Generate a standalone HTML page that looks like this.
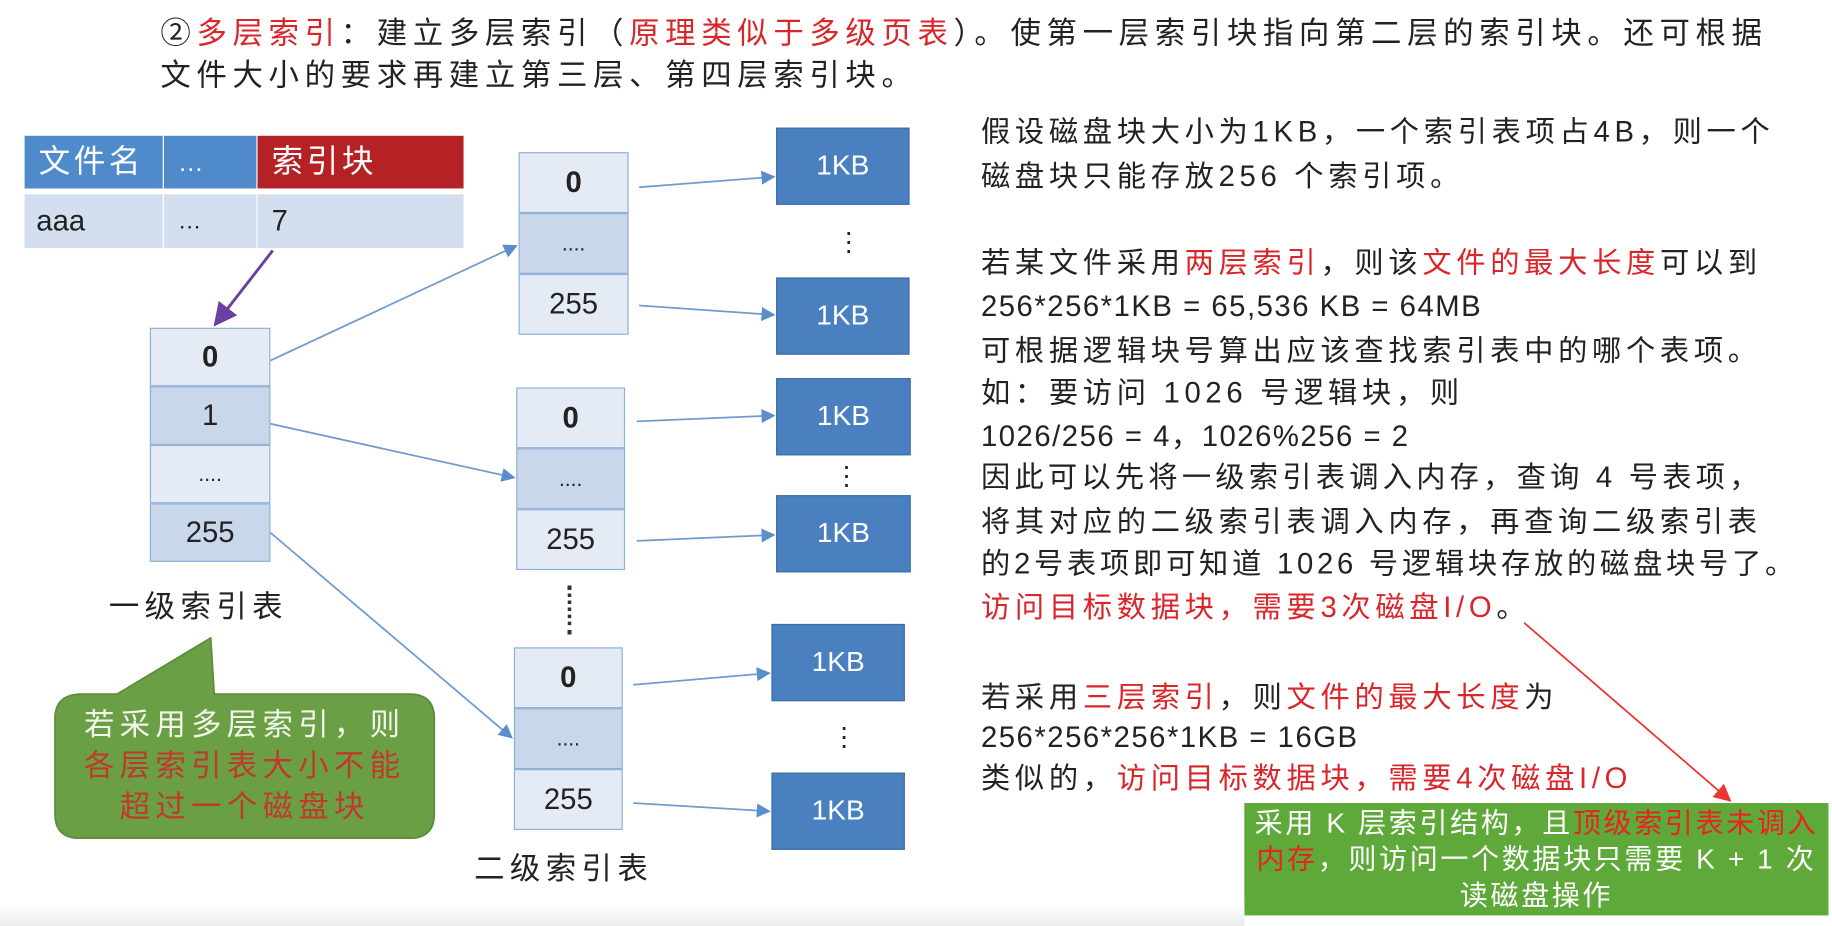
<!DOCTYPE html>
<html><head><meta charset="utf-8">
<style>
html,body{margin:0;padding:0;background:#fff;width:1832px;height:926px;overflow:hidden}
#stage{position:absolute;left:0;top:0;width:1565px;height:791px;transform:scale(1.1706);transform-origin:0 0;font-family:"Liberation Sans","Noto Sans CJK SC",sans-serif;color:#222}
.abs{position:absolute}
.t{position:absolute;white-space:nowrap;font-size:25px;line-height:30px;letter-spacing:4px}
.n{letter-spacing:1.3px}
.r{color:#d9262b}
.cell{position:absolute;box-sizing:border-box;border:1.5px solid #8fb0d6;display:flex;align-items:center;justify-content:center;font-size:25px}
.lt{background:#e4ebf4}.dk{background:#c9d7ea}
.kb{position:absolute;background:#4a80c0;border:1px solid #3a6ea8;color:#fff;font-size:24px;display:flex;align-items:center;justify-content:center;box-sizing:border-box}
.vd{position:absolute;font-size:22px;line-height:22px}
</style></head><body>
<div id="stage">
<div class="t" style="left:137px;top:13px;font-size:26px;letter-spacing:4.8px">②<span class="r">多层索引</span>：建立多层索引（<span class="r">原理类似于多级页表</span>）。使第一层索引块指向第二层的索引块。还可根据</div>
<div class="t" style="left:137px;top:49px;font-size:26px;letter-spacing:4.8px">文件大小的要求再建立第三层、第四层索引块。</div>

<div class="abs" style="left:21px;top:116px;width:118px;height:45px;background:#4f8bcb;color:#fff;font-size:27px;line-height:45px;padding-left:12px;box-sizing:border-box;letter-spacing:3px">文件名</div>
<div class="abs" style="left:140px;top:116px;width:79px;height:45px;background:#4f8bcb;color:#fff;font-size:22px;line-height:45px;padding-left:12px;box-sizing:border-box">…</div>
<div class="abs" style="left:220px;top:116px;width:176px;height:45px;background:#b52226;color:#fff;font-size:27px;line-height:45px;padding-left:12px;box-sizing:border-box;letter-spacing:3px">索引块</div>
<div class="abs" style="left:21px;top:166px;width:118px;height:46px;background:#d3deee;font-size:25px;line-height:46px;padding-left:10px;box-sizing:border-box">aaa</div>
<div class="abs" style="left:140px;top:166px;width:79px;height:46px;background:#d3deee;font-size:20px;line-height:46px;padding-left:12px;box-sizing:border-box">…</div>
<div class="abs" style="left:220px;top:166px;width:176px;height:46px;background:#d3deee;font-size:25px;line-height:46px;padding-left:12px;box-sizing:border-box">7</div>

<svg class="abs" style="left:0;top:0" width="1565" height="791">
<defs>
<marker id="ab" markerWidth="8" markerHeight="8" refX="7" refY="4" orient="auto"><path d="M0,0L8,4L0,8z" fill="#5b8ec9"/></marker>
<marker id="ap" markerWidth="8" markerHeight="8" refX="7" refY="4" orient="auto"><path d="M0,0L8,4L0,8z" fill="#6b3fa0"/></marker>
<marker id="ar" markerWidth="10" markerHeight="10" refX="9" refY="5" orient="auto"><path d="M0,0L10,5L0,10z" fill="#e33"/></marker>
</defs>
<g stroke="#6f9bd0" stroke-width="1.5" fill="none" marker-end="url(#ab)">
<line x1="231" y1="308" x2="441" y2="210"/>
<line x1="231" y1="362" x2="439" y2="408"/>
<line x1="231" y1="455" x2="437" y2="630"/>
<line x1="546" y1="160" x2="661" y2="151"/>
<line x1="546" y1="261" x2="661" y2="269"/>
<line x1="544" y1="360" x2="661" y2="355"/>
<line x1="544" y1="462" x2="661" y2="457"/>
<line x1="541" y1="585" x2="657" y2="575"/>
<line x1="541" y1="686" x2="657" y2="693"/>
</g>
<line x1="233" y1="214" x2="184" y2="277" stroke="#6b3fa0" stroke-width="2.5" marker-end="url(#ap)"/>
<line x1="1302" y1="532" x2="1478" y2="684" stroke="#e33" stroke-width="1.5" marker-end="url(#ar)"/>
<path d="M70,593 H100 L180,545 L183,593 H350 Q371,593 371,614 V695 Q371,716 350,716 H68 Q47,716 47,695 V614 Q47,593 70,593Z" fill="#6b9f46" stroke="#5d8c3c" stroke-width="1.5"/>
</svg>

<div class="cell lt" style="left:128px;top:280px;width:103px;height:50px;font-weight:bold">0</div>
<div class="cell dk" style="left:128px;top:330px;width:103px;height:50px">1</div>
<div class="cell lt" style="left:128px;top:380px;width:103px;height:50px;font-size:18px">....</div>
<div class="cell dk" style="left:128px;top:430px;width:103px;height:50px">255</div>
<div class="t" style="left:93px;top:503px;font-size:26px;letter-spacing:4.6px">一级索引表</div>

<div class="cell lt" style="left:443px;top:130px;width:94px;height:52px;font-weight:bold">0</div>
<div class="cell dk" style="left:443px;top:182px;width:94px;height:52px;font-size:18px">....</div>
<div class="cell lt" style="left:443px;top:234px;width:94px;height:52px">255</div>
<div class="cell lt" style="left:441px;top:331px;width:93px;height:52px;font-weight:bold">0</div>
<div class="cell dk" style="left:441px;top:383px;width:93px;height:52px;font-size:18px">....</div>
<div class="cell lt" style="left:441px;top:435px;width:93px;height:52px">255</div>
<div class="cell lt" style="left:439px;top:553px;width:93px;height:52px;font-weight:bold">0</div>
<div class="cell dk" style="left:439px;top:605px;width:93px;height:52px;font-size:18px">....</div>
<div class="cell lt" style="left:439px;top:657px;width:93px;height:52px">255</div>
<div class="abs" style="left:485px;top:500px;width:0;height:42px;border-left:3px dotted #333"></div>
<div class="t" style="left:405px;top:727px;font-size:26px;letter-spacing:4.6px">二级索引表</div>

<div class="kb" style="left:663px;top:109px;width:114px;height:66px">1KB</div>
<div class="kb" style="left:663px;top:237px;width:114px;height:66px">1KB</div>
<div class="kb" style="left:663px;top:323px;width:115px;height:66px">1KB</div>
<div class="kb" style="left:663px;top:423px;width:115px;height:66px">1KB</div>
<div class="kb" style="left:659px;top:533px;width:114px;height:66px">1KB</div>
<div class="kb" style="left:659px;top:660px;width:114px;height:66px">1KB</div>
<div class="vd" style="left:714px;top:196px">⋮</div>
<div class="vd" style="left:712px;top:396px">⋮</div>
<div class="vd" style="left:710px;top:619px">⋮</div>

<div class="abs" style="left:47px;top:602px;width:324px;text-align:center;font-size:26px;line-height:35px;letter-spacing:4.5px"><span style="color:#f2f5ea">若采用多层索引，则</span><br><span style="color:#c0392b">各层索引表大小不能<br>超过一个磁盘块</span></div>

<div class="t" style="left:838px;top:98px">假设磁盘块大小为1KB，一个索引表项占4B，则一个</div>
<div class="t" style="left:838px;top:136px">磁盘块只能存放256 个索引项。</div>
<div class="t" style="left:838px;top:210px">若某文件采用<span class="r">两层索引</span>，则该<span class="r">文件的最大长度</span>可以到</div>
<div class="t n" style="left:838px;top:247px">256*256*1KB = 65,536 KB = 64MB</div>
<div class="t" style="left:838px;top:285px">可根据逻辑块号算出应该查找索引表中的哪个表项。</div>
<div class="t" style="left:838px;top:321px">如：要访问 1026 号逻辑块，则</div>
<div class="t n" style="left:838px;top:358px">1026/256 = 4，1026%256 = 2</div>
<div class="t" style="left:838px;top:393px;letter-spacing:3.6px">因此可以先将一级索引表调入内存，查询 4 号表项，</div>
<div class="t" style="left:838px;top:431px">将其对应的二级索引表调入内存，再查询二级索引表</div>
<div class="t" style="left:838px;top:467px;letter-spacing:3.2px">的2号表项即可知道 1026 号逻辑块存放的磁盘块号了。</div>
<div class="t r" style="left:838px;top:504px">访问目标数据块，需要3次磁盘I/O<span style="color:#222">。</span></div>
<div class="t" style="left:838px;top:581px">若采用<span class="r">三层索引</span>，则<span class="r">文件的最大长度</span>为</div>
<div class="t n" style="left:838px;top:615px">256*256*256*1KB = 16GB</div>
<div class="t" style="left:838px;top:650px">类似的，<span class="r">访问目标数据块，需要4次磁盘I/O</span></div>

<div class="abs" style="left:1063px;top:686px;width:499px;height:96px;background:#5fa83a;color:#fff;font-size:24px;line-height:31px;text-align:center;padding-top:2px;box-sizing:border-box;letter-spacing:2.2px;white-space:nowrap">采用 K 层索引结构，且<span style="color:#e8241e">顶级索引表未调入</span><br><span style="color:#e8241e">内存</span>，则访问一个数据块只需要 K + 1 次<br>读磁盘操作</div>
<div class="abs" style="left:0;top:772px;width:1063px;height:19px;background:linear-gradient(#fff,#ececec)"></div>
</div>
</body></html>
